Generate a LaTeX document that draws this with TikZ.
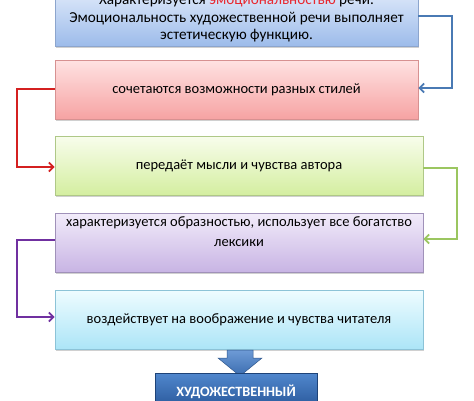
\documentclass[tikz,border=0pt]{standalone}
\usepackage{fontspec}
\setmainfont{Carlito}
\usetikzlibrary{arrows.meta,shadows}
\definecolor{bTop}{RGB}{222,233,250}
\definecolor{bBot}{RGB}{156,187,234}
\definecolor{bDr}{RGB}{140,165,205}
\definecolor{rTop}{RGB}{255,226,226}
\definecolor{rBot}{RGB}{246,163,163}
\definecolor{rDr}{RGB}{215,145,145}
\definecolor{gTop}{RGB}{248,253,236}
\definecolor{gBot}{RGB}{212,238,160}
\definecolor{gDr}{RGB}{175,200,135}
\definecolor{pTop}{RGB}{242,236,250}
\definecolor{pBot}{RGB}{200,180,228}
\definecolor{pDr}{RGB}{160,145,185}
\definecolor{cTop}{RGB}{238,252,255}
\definecolor{cBot}{RGB}{172,229,247}
\definecolor{cDr}{RGB}{140,195,215}
\definecolor{lnBlue}{RGB}{74,122,180}
\definecolor{lnRed}{RGB}{212,32,32}
\definecolor{lnGreen}{RGB}{155,198,96}
\definecolor{lnPurple}{RGB}{112,48,160}
\definecolor{txtRed}{RGB}{232,40,48}
\definecolor{arTop}{RGB}{110,155,214}
\definecolor{arBot}{RGB}{58,108,175}
\definecolor{fbTop}{RGB}{80,135,205}
\definecolor{fbBot}{RGB}{38,84,150}
\begin{document}
\begin{tikzpicture}[x=1pt,y=-1pt,
  box/.style={line width=0.6pt, inner sep=0pt, align=center,
    font=\fontsize{14.5}{18}\selectfont,
    drop shadow={shadow xshift=1.2pt, shadow yshift=-1.8pt, opacity=0.3, fill=black!60}},
  boxtext/.style={inner sep=0pt, align=center, font=\fontsize{14.5}{20}\selectfont},
  conn/.style={line width=1.8pt, -{Straight Barb[length=4.5pt,width=9pt]}},
]
\useasboundingbox (0,0) rectangle (474,400);
\clip (0,0) rectangle (474,400);
\fill[white] (0,0) rectangle (474,400);

\node[box, draw=bDr, top color=bTop, bottom color=bBot,
      minimum width=363pt, minimum height=56pt,
      font=\fontsize{15.2}{17.5}\selectfont] (box1) at (236.5,18.5)
  {Характеризуется {\color{txtRed}эмоциональностью} речи.\\
   Эмоциональность художественной речи выполняет\\
   эстетическую функцию.};

\node[box, draw=rDr, top color=rTop, bottom color=rBot,
      minimum width=363pt, minimum height=59pt] (box2) at (236.5,89.5)
  {сочетаются возможности разных стилей};

\node[box, draw=gDr, top color=gTop, bottom color=gBot,
      minimum width=368pt, minimum height=59pt] (box3) at (239,165.5)
  {передаёт мысли и чувства автора};

\node[box, draw=pDr, top color=pTop, bottom color=pBot,
      minimum width=368pt, minimum height=59pt] (box4) at (239,242.5) {};
\node[boxtext] (t4) at (239,232)
  {характеризуется образностью, использует все богатство\\ лексики};

\node[box, draw=cDr, top color=cTop, bottom color=cBot,
      minimum width=368pt, minimum height=59pt] (box5) at (239,319.5)
  {воздействует на воображение и чувства читателя};

% block arrow
\draw[draw=arBot!80!black, line width=0.5pt, top color=arTop, bottom color=arBot]
  (227,350) -- (253,350) -- (253,358) -- (262,358) -- (240,376)
  -- (218,358) -- (227,358) -- cycle;

\node[draw=fbBot!80!black, line width=0.5pt, top color=fbTop, bottom color=fbBot,
      minimum width=162pt, minimum height=38pt, inner sep=0pt,
      text=white, font=\fontsize{14.2}{16}\selectfont\bfseries] (box6) at (236,392)
  {ХУДОЖЕСТВЕННЫЙ};

% connectors
\draw[conn, lnBlue] ([yshift=2.5pt]box1.east) -- ++(34,0) |- ([yshift=1.5pt]box2.east);
\draw[conn, lnRed] ([yshift=0.5pt]box2.west) -- ++(-38,0) |- ([yshift=-1.5pt]box3.west);
\draw[conn, lnGreen] ([yshift=-2.5pt]box3.east) -- ++(34,0) |- ([yshift=3.5pt]box4.east);
\draw[conn, lnPurple] ([yshift=2.5pt]box4.west) -- ++(-38,0) |- ([yshift=2.5pt]box5.west);
\end{tikzpicture}
\end{document}
